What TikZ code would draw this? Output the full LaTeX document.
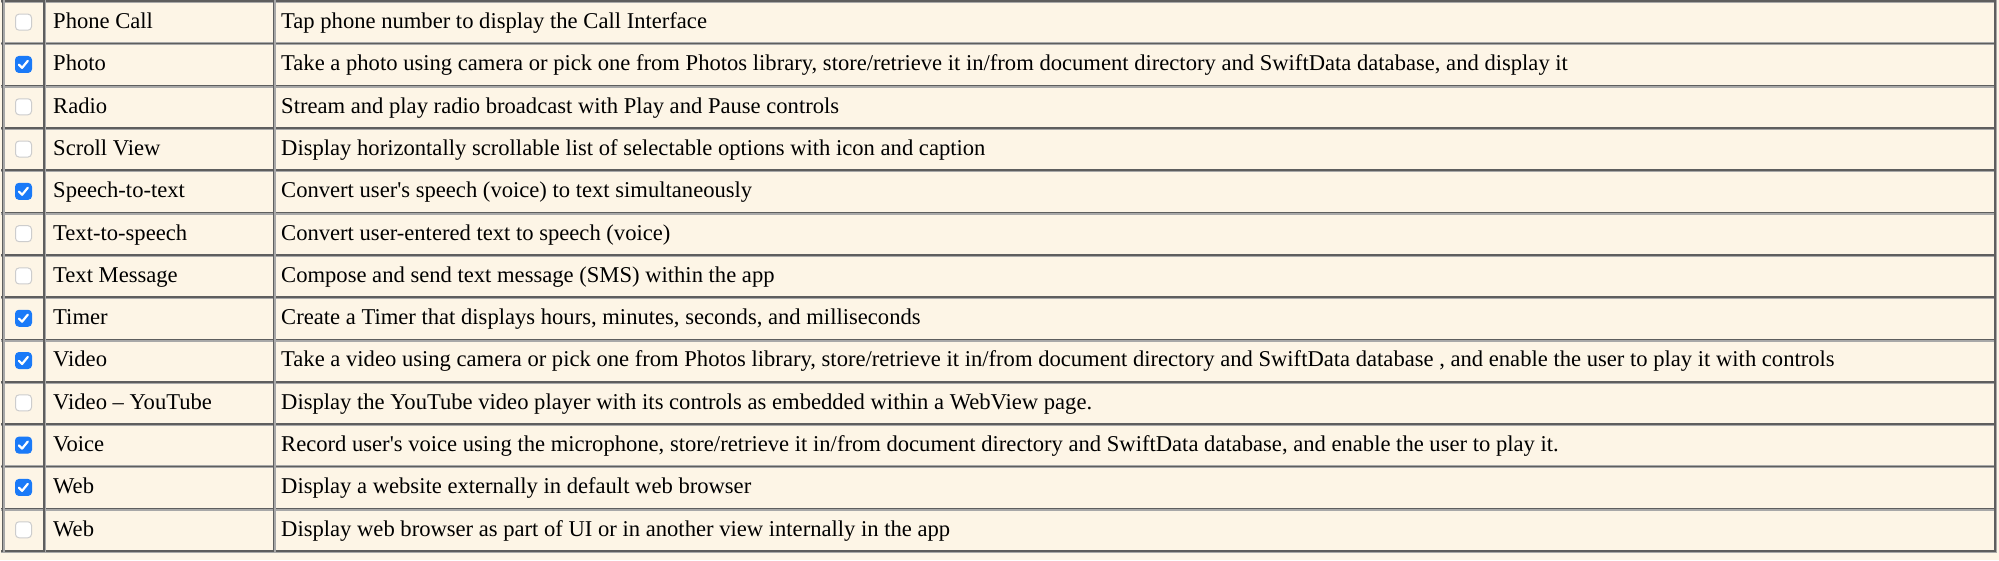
\documentclass[tikz,border=0pt]{standalone}
\usepackage{fontspec}
\newfontfamily\tabfont{Liberation Serif}
\definecolor{bg}{HTML}{FDF5E6}
\definecolor{ruledark}{HTML}{5E5E5E}
\definecolor{rulelight}{HTML}{A8A8A8}
\definecolor{cbblue}{HTML}{1A7AF8}
\definecolor{cbgray}{HTML}{CDCDCD}
\tikzset{
  cell/.style={anchor=base west, inner sep=0pt, font=\tabfont\fontsize{22.6}{26}\selectfont, text=black},
  boxoff/.style={draw=cbgray, fill=white, line width=1pt, rounded corners=3.5pt, minimum size=16pt, inner sep=0pt},
  boxon/.style={draw=cbblue, fill=cbblue, line width=1pt, rounded corners=3.5pt, minimum size=16pt, inner sep=0pt},
  tick/.style={draw=white, line width=2.2pt, line cap=round, line join=round},
  rulel/.style={draw=rulelight, line width=3pt},
  ruled/.style={draw=ruledark, line width=1.6pt}
}
\newcommand\tabrow[4]{%
  \pgfmathsetmacro\rc{1+42.3*(#1-0.5)}%
  \pgfmathsetmacro\rb{\rc+6.4}%
  \ifnum#2=1
    \node[boxon] (c#1) at (23.5,\rc) {};
    \draw[tick] ([shift={(-4.5,0.3)}]c#1.center) -- ([shift={(-1.4,3.4)}]c#1.center) -- ([shift={(4.3,-3.6)}]c#1.center);
  \else
    \node[boxoff] (c#1) at (23.5,\rc) {};
  \fi
  \node[cell] (n#1) at (53,\rb) {#3};
  \node[cell] (d#1) at (281,\rb) {#4};
}
\begin{document}
\begin{tikzpicture}[x=1pt,y=-1pt]
\useasboundingbox (0,0) rectangle (1999,560);
\fill[bg] (0,0) rectangle (1999,560);
% grid lines
\foreach \k in {0,...,13}{
  \pgfmathsetmacro\ry{1+42.3*\k}
  \draw[rulel] (1,\ry+0.6) -- (1996.5,\ry+0.6);
  \draw[ruled] (1,\ry) -- (1996.5,\ry);
}
\foreach \vx in {2.5,44,273.5,1995}{
  \draw[rulel] (\vx+0.6,0) -- (\vx+0.6,552);
  \draw[ruled] (\vx,0) -- (\vx,552);
}
\tabrow{1}{0}{Phone Call}{Tap phone number to display the Call Interface}
\tabrow{2}{1}{Photo}{Take a photo using camera or pick one from Photos library, store/retrieve it in/from document directory and SwiftData database, and display it}
\tabrow{3}{0}{Radio}{Stream and play radio broadcast with Play and Pause controls}
\tabrow{4}{0}{Scroll View}{Display horizontally scrollable list of selectable options with icon and caption}
\tabrow{5}{1}{Speech-to-text}{Convert user's speech (voice) to text simultaneously}
\tabrow{6}{0}{Text-to-speech}{Convert user-entered text to speech (voice)}
\tabrow{7}{0}{Text Message}{Compose and send text message (SMS) within the app}
\tabrow{8}{1}{Timer}{Create a Timer that displays hours, minutes, seconds, and milliseconds}
\tabrow{9}{1}{Video}{Take a video using camera or pick one from Photos library, store/retrieve it in/from document directory and SwiftData database , and enable the user to play it with controls}
\tabrow{10}{0}{Video – YouTube}{Display the YouTube video player with its controls as embedded within a WebView page.}
\tabrow{11}{1}{Voice}{Record user's voice using the microphone, store/retrieve it in/from document directory and SwiftData database, and enable the user to play it.}
\tabrow{12}{1}{Web}{Display a website externally in default web browser}
\tabrow{13}{0}{Web}{Display web browser as part of UI or in another view internally in the app}
\end{tikzpicture}
\end{document}
